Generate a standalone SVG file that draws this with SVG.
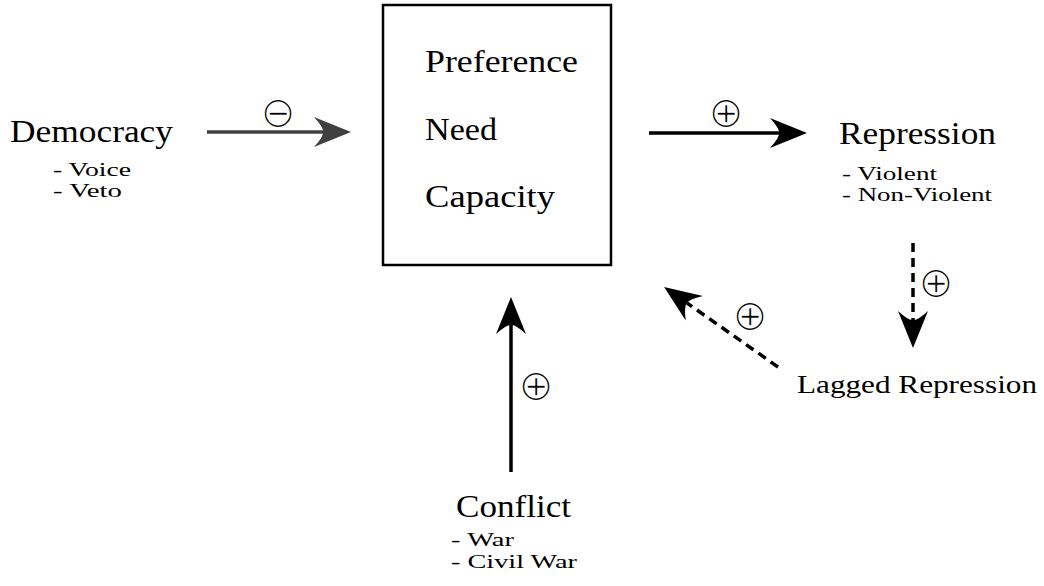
<svg xmlns="http://www.w3.org/2000/svg" width="1044" height="586" viewBox="0 0 1044 586">
<style>
  .lbl { font-family: "Liberation Serif", "Times New Roman", "DejaVu Serif", serif; fill: #000; }
  .main { font-size: 31px; }
  .sub { font-size: 19px; }
  .lag { font-size: 25px; }
  .sym { font-family: "DejaVu Sans", sans-serif; font-size: 43px; text-anchor: middle; fill: #000; stroke: #fff; stroke-width: 1.6; }
  .edge { fill: none; stroke: #000; stroke-width: 3.5; }
  .dash { stroke-dasharray: 9 6; }
</style>
<defs>
  <marker id="ah" markerUnits="userSpaceOnUse" viewBox="-2 -17 42 34" markerWidth="42" markerHeight="34" refX="9" refY="0" orient="auto">
    <path d="M37,0 L0,-15 Q10,-4 9,0 Q10,4 0,15 Z" fill="#000"/>
  </marker>
  <marker id="ahg" markerUnits="userSpaceOnUse" viewBox="-2 -17 42 34" markerWidth="42" markerHeight="34" refX="9" refY="0" orient="auto">
    <path d="M37,0 L0,-15 Q10,-4 9,0 Q10,4 0,15 Z" fill="#404040"/>
  </marker>
</defs>
<rect width="1044" height="586" fill="#fff"/>

<g id="core">
  <rect x="383" y="5" width="228" height="260" fill="#fff" stroke="#000" stroke-width="2.5"/>
  <text class="lbl main" x="425" y="72" textLength="153" lengthAdjust="spacingAndGlyphs">Preference</text>
  <text class="lbl main" x="425" y="140" textLength="72" lengthAdjust="spacingAndGlyphs">Need</text>
  <text class="lbl main" x="425" y="207" textLength="130" lengthAdjust="spacingAndGlyphs">Capacity</text>
</g>

<g id="democracy">
  <text class="lbl main" x="10" y="142" textLength="163" lengthAdjust="spacingAndGlyphs">Democracy</text>
  <text class="lbl sub" x="53" y="176" textLength="78" lengthAdjust="spacingAndGlyphs">- Voice</text>
  <text class="lbl sub" x="53" y="197" textLength="69" lengthAdjust="spacingAndGlyphs">- Veto</text>
</g>

<g id="repression">
  <text class="lbl main" x="839" y="144" textLength="157" lengthAdjust="spacingAndGlyphs">Repression</text>
  <text class="lbl sub" x="842" y="180" textLength="95" lengthAdjust="spacingAndGlyphs">- Violent</text>
  <text class="lbl sub" x="842" y="201" textLength="150" lengthAdjust="spacingAndGlyphs">- Non-Violent</text>
</g>

<g id="lagged">
  <text class="lbl lag" x="797" y="393" textLength="240" lengthAdjust="spacingAndGlyphs">Lagged Repression</text>
</g>

<g id="conflict">
  <text class="lbl main" x="456" y="517" textLength="115" lengthAdjust="spacingAndGlyphs">Conflict</text>
  <text class="lbl sub" x="451" y="546" textLength="63" lengthAdjust="spacingAndGlyphs">- War</text>
  <text class="lbl sub" x="451" y="568" textLength="126" lengthAdjust="spacingAndGlyphs">- Civil War</text>
</g>

<g id="connectors">
  <line class="edge" x1="207" y1="132" x2="323" y2="132" style="stroke:#404040" marker-end="url(#ahg)"/>
  <line class="edge" x1="649" y1="133" x2="779" y2="133" marker-end="url(#ah)"/>
  <line class="edge" x1="511" y1="472" x2="511" y2="325" marker-end="url(#ah)"/>
  <line class="edge dash" x1="913" y1="243" x2="913" y2="320" marker-end="url(#ah)"/>
  <line class="edge dash" x1="778" y1="367" x2="687" y2="303" marker-end="url(#ah)"/>
  <text class="sym" x="278" y="127">⊖</text>
  <text class="sym" x="726" y="127">⊕</text>
  <text class="sym" x="750" y="330">⊕</text>
  <text class="sym" x="936" y="297">⊕</text>
  <text class="sym" x="536" y="400">⊕</text>
</g>
</svg>
